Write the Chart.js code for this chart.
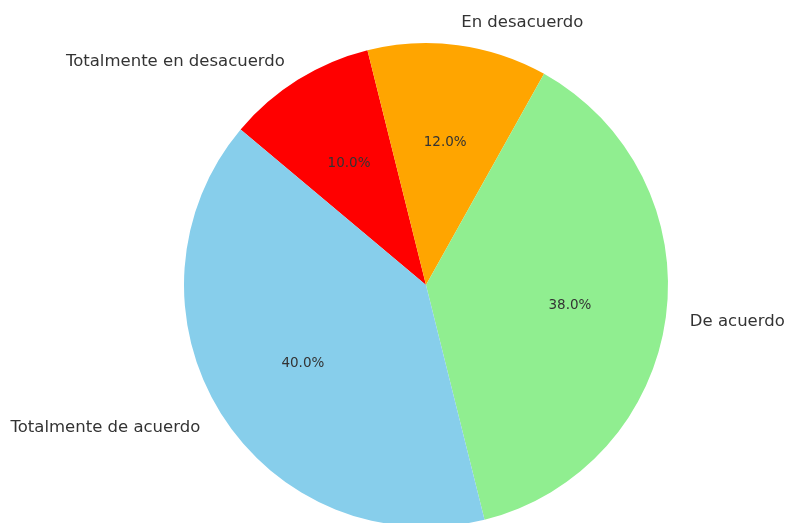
<!DOCTYPE html>
<html>
<head>
<meta charset="utf-8">
<script src="https://cdn.jsdelivr.net/npm/chart.js@4.4.0/dist/chart.umd.min.js"></script>
<style>
html,body{margin:0;padding:0;background:#fff;overflow:hidden;width:786px;height:523px;}
#wrap{position:absolute;left:0;top:0;width:786px;height:530px;}
</style>
</head>
<body>
<div id="wrap"><canvas id="c" width="786" height="530"></canvas></div>
<script>
// Categories in clockwise drawing order (matplotlib draws counter-clockwise from 140°)
const categories = ["Totalmente en desacuerdo", "En desacuerdo", "De acuerdo", "Totalmente de acuerdo"];
const values = [10, 12, 38, 40];
const colors = ["#ff0000", "#ffa500", "#90ee90", "#87ceeb"];

const labelPlugin = {
  id: 'pieLabels',
  afterDatasetsDraw(chart) {
    const ctx = chart.ctx;
    const meta = chart.getDatasetMeta(0);
    const total = values.reduce((a, b) => a + b, 0);
    ctx.save();
    meta.data.forEach((arc, i) => {
      const p = arc.getProps(['x', 'y', 'startAngle', 'endAngle', 'outerRadius'], true);
      const mid = (p.startAngle + p.endAngle) / 2;
      const c = Math.cos(mid), s = Math.sin(mid);
      ctx.font = '16.5px "DejaVu Sans"';
      ctx.fillStyle = '#333333';
      ctx.textBaseline = 'middle';
      ctx.textAlign = c >= 0 ? 'left' : 'right';
      ctx.fillText(categories[i], p.x + c * p.outerRadius * 1.1, p.y + s * p.outerRadius * 1.1 + 2);
      ctx.font = '13.5px "DejaVu Sans"';
      ctx.textAlign = 'center';
      const pct = (values[i] / total * 100).toFixed(1) + '%';
      ctx.fillText(pct, p.x + c * p.outerRadius * 0.6, p.y + s * p.outerRadius * 0.6 + 1.5);
    });
    ctx.restore();
  }
};

new Chart(document.getElementById('c'), {
  type: 'pie',
  data: {
    labels: categories,
    datasets: [{
      data: values,
      backgroundColor: colors,
      borderWidth: 0
    }]
  },
  options: {
    responsive: false,
    animation: false,
    rotation: -50,
    layout: { padding: { left: 184, right: 118, top: 43, bottom: 3 } },
    plugins: { legend: { display: false }, tooltip: { enabled: false } }
  },
  plugins: [labelPlugin]
});
</script>
</body>
</html>
